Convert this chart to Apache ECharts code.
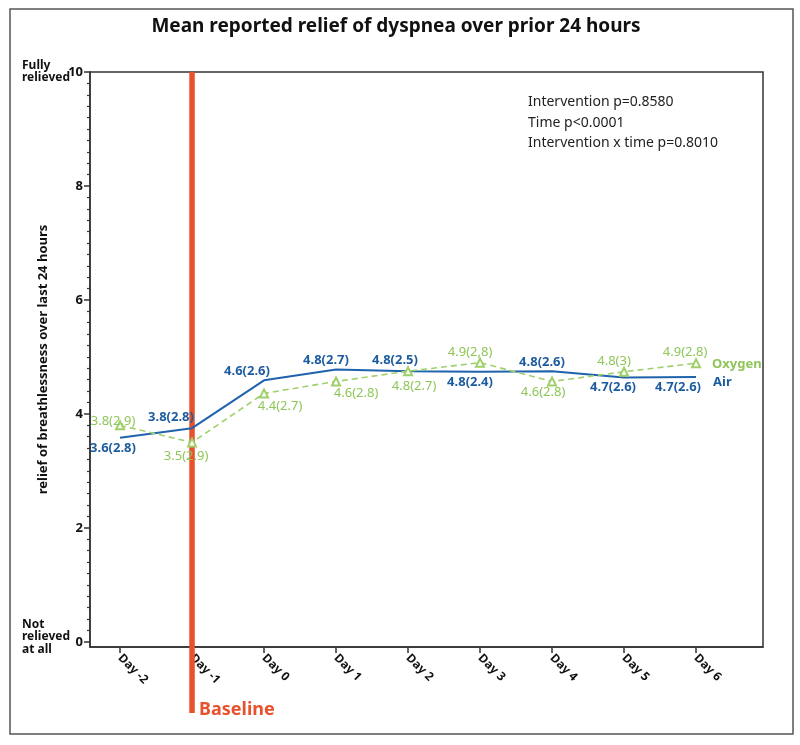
<!DOCTYPE html>
<html><head><meta charset="utf-8">
<script src="https://cdn.jsdelivr.net/npm/echarts@6/dist/echarts.min.js"></script>
<style>html,body{margin:0;padding:0;background:#fff}#c{width:800px;height:745px}</style>
</head><body><div id="c"></div>
<script>
// ---- data ----
const categories = ['Day -2','Day -1','Day 0','Day 1','Day 2','Day 3','Day 4','Day 5','Day 6'];
const dayValues = [-2,-1,0,1,2,3,4,5,6];
const airValues = [3.58,3.75,4.59,4.78,4.75,4.74,4.75,4.64,4.65];
const airLabels = ['3.6(2.8)','3.8(2.8)','4.6(2.6)','4.8(2.7)','4.8(2.5)','4.8(2.4)','4.8(2.6)','4.7(2.6)','4.7(2.6)'];
const oxygenValues = [3.8,3.5,4.36,4.57,4.75,4.9,4.57,4.74,4.89];
const oxygenLabels = ['3.8(2.9)','3.5(2.9)','4.4(2.7)','4.6(2.8)','4.8(2.7)','4.9(2,8)','4.6(2.8)','4.8(3)','4.9(2.8)'];
const yTickValues = [0,2,4,6,8,10];
const baselineDay = -1;
const statsLines = ['Intervention p=0.8580','Time p<0.0001','Intervention x time p=0.8010'];
const titleText = 'Mean reported relief of dyspnea over prior 24 hours';
const yAxisTitle = 'relief of breathlessness over last 24 hours';

// ---- label placement (style) ----
const airLabelOffsets = [[-7,10],[-21,-11],[-17,-9],[-10,-9],[-13,-11],[-10,11],[-10,-9],[-11,10],[-18,10]];
const oxyLabelOffsets = [[-7,-4],[-6,14],[16,13],[20,12],[6,15],[-10,-10],[-9,11],[-10,-10],[-11,-11]];

const FONT = 'Noto Sans';
const BLUE = '#1f63ad', BLUE_TXT = '#1d5c9e';
const GREEN = '#9fd06a', GREEN_TXT = '#8fc65a';
const ORANGE = '#e8512c';

const minorTicks = [];
for (let i = 0; i <= 50; i++) { const v = +(i * 0.2).toFixed(1); if (!yTickValues.includes(v)) minorTicks.push(v); }

const chart = echarts.init(document.getElementById('c'), null, {renderer: 'canvas'});

const airData = airValues.map((v, i) => ({
  value: [dayValues[i], v],
  label: {formatter: airLabels[i], offset: airLabelOffsets[i]}
}));
const oxyData = oxygenValues.map((v, i) => ({
  value: [dayValues[i], v],
  label: {formatter: oxygenLabels[i], offset: oxyLabelOffsets[i]}
}));

chart.setOption({
  animation: false,
  textStyle: {fontFamily: FONT},
  grid: {left: 90, right: 37, top: 72, bottom: 98, show: true, borderColor: '#333', borderWidth: 1.5, backgroundColor: 'transparent', containLabel: false},
  xAxis: {
    type: 'value', min: -2.417, max: 6.93,
    splitLine: {show: false},
    axisLine: {show: true, onZero: false, lineStyle: {color: '#333', width: 1.5}},
    axisTick: {show: true, customValues: dayValues, length: 6, lineStyle: {color: '#333', width: 1.5}},
    axisLabel: {
      customValues: dayValues, rotate: -45, margin: 9,
      formatter: v => categories[dayValues.indexOf(Math.round(v))] || '',
      fontFamily: FONT, fontWeight: 'bold', fontSize: 12, color: '#111'
    }
  },
  yAxis: [{
    type: 'value', min: -0.09, max: 10,
    name: yAxisTitle, nameLocation: 'middle', nameRotate: 90, nameGap: 40,
    nameTextStyle: {fontFamily: FONT, fontWeight: 'bold', fontSize: 13, color: '#111'},
    splitLine: {show: false},
    axisLine: {show: true, onZero: false, lineStyle: {color: '#333', width: 1.5}},
    axisTick: {show: true, customValues: yTickValues, length: 6, lineStyle: {color: '#333', width: 1.5}},
    axisLabel: {customValues: yTickValues, margin: 7, fontFamily: FONT, fontWeight: 'bold', fontSize: 13, color: '#111'}
  }, {
    type: 'value', min: -0.09, max: 10, position: 'left',
    splitLine: {show: false},
    axisLine: {show: false, onZero: false},
    axisTick: {show: true, customValues: minorTicks, length: 3, lineStyle: {color: '#333', width: 1.2}},
    axisLabel: {show: false}
  }],
  series: [{
    name: 'Air', type: 'line', data: airData,
    symbol: 'circle', symbolSize: 1, itemStyle: {color: 'rgba(0,0,0,0)'},
    lineStyle: {color: BLUE, width: 2},
    label: {show: true, position: 'inside', align: 'center', verticalAlign: 'middle', color: BLUE_TXT, fontFamily: FONT, fontWeight: 'bold', fontSize: 13},
    endLabel: {show: true, formatter: '{a}', offset: [9, 5], color: BLUE_TXT, fontFamily: FONT, fontWeight: 'bold', fontSize: 13},
    z: 3
  }, {
    name: 'Oxygen', type: 'line', data: oxyData,
    symbol: 'emptyTriangle', symbolSize: 8, itemStyle: {color: GREEN, borderColor: GREEN, borderWidth: 1.2},
    lineStyle: {color: GREEN, width: 1.6, type: [6, 4]},
    label: {show: true, position: 'inside', align: 'center', verticalAlign: 'middle', color: GREEN_TXT, fontFamily: FONT, fontWeight: 'normal', fontSize: 13},
    endLabel: {show: true, formatter: '{a}', offset: [8, 1], color: GREEN_TXT, fontFamily: FONT, fontWeight: 'bold', fontSize: 13},
    z: 4
  }]
});

// ---- annotations positioned through the scales ----
const pTop = chart.convertToPixel({gridIndex: 0}, [baselineDay, 10]);
const pZero = chart.convertToPixel({gridIndex: 0}, [baselineDay, 0]);
chart.setOption({
  graphic: [
    {type: 'rect', shape: {x: 10, y: 9, width: 783, height: 725}, style: {fill: 'none', stroke: '#555', lineWidth: 1.5}, z: 0, silent: true},
    {type: 'text', x: 396, y: 27, style: {text: titleText, fontFamily: FONT, fontWeight: 'bold', fontSize: 19, fill: '#111', align: 'center', verticalAlign: 'middle'}},
    {type: 'line', shape: {x1: pTop[0], y1: pTop[1], x2: pTop[0], y2: 713}, style: {stroke: ORANGE, lineWidth: 5.5}, z: 1},
    {type: 'text', x: pTop[0] + 7, y: 710, style: {text: 'Baseline', fontFamily: FONT, fontWeight: 'bold', fontSize: 18, fill: ORANGE, align: 'left', verticalAlign: 'middle'}},
    {type: 'text', x: 22, y: pTop[1] + 12, style: {text: 'Fully\nrelieved', fontFamily: FONT, fontWeight: 'bold', fontSize: 12, lineHeight: 12.5, fill: '#111', align: 'left', verticalAlign: 'bottom'}},
    {type: 'text', x: 22, y: pZero[1] - 24, style: {text: 'Not\nrelieved\nat all', fontFamily: FONT, fontWeight: 'bold', fontSize: 12, lineHeight: 12.5, fill: '#111', align: 'left', verticalAlign: 'top'}},
    {type: 'text', x: 528, y: 92, style: {text: statsLines.join('\n'), fontFamily: FONT, fontSize: 14, lineHeight: 20.5, fill: '#222', align: 'left', verticalAlign: 'top'}}
  ]
});
</script></body></html>
